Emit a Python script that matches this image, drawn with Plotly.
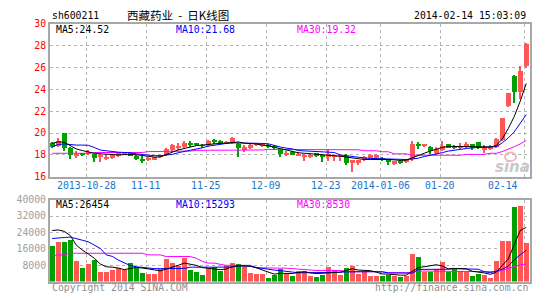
import pandas as pd
import plotly.graph_objects as go

# ---------------- data ----------------
holidays = ['2014-01-01', '2014-01-31', '2014-02-03', '2014-02-04', '2014-02-05', '2014-02-06']
dates = [d.strftime('%Y-%m-%d') for d in pd.bdate_range('2013-10-18', '2014-02-14')
         if d.strftime('%Y-%m-%d') not in holidays]

open_ = [19.15, 18.85, 20.0, 18.7, 17.95, 18.1, 18.15, 18.1, 17.9, 17.75,
         17.78, 17.95, 18.05, 18.2, 17.95, 17.7, 17.55, 17.65, 17.8, 18.0,
         18.5, 18.75, 18.75, 19.1, 19.0, 18.9, 18.95, 19.3, 19.35, 19.1,
         19.1, 19.05, 18.5, 18.7, 18.95, 18.9, 18.95, 18.85, 18.5, 18.05,
         18.3, 18.0, 17.9, 17.9, 18.2, 18.0, 17.8, 17.9, 17.8, 17.95,
         17.3, 17.3, 17.7, 17.75, 17.75, 17.75, 17.65, 17.2, 17.5, 17.4,
         17.65, 18.95, 18.9, 18.8, 18.2, 18.5, 19.0, 18.8, 18.7, 18.76,
         19.0, 19.2, 18.5, 18.6, 18.75, 19.4, 22.5, 25.25, 23.8, 26.15]
high = [19.2, 19.55, 20.0, 18.75, 18.35, 18.2, 18.45, 18.15, 18.2, 18.0,
        18.05, 18.25, 18.25, 18.25, 18.0, 17.9, 17.8, 17.85, 18.05, 18.7,
        19.05, 19.1, 19.3, 19.3, 19.1, 19.05, 19.4, 19.45, 19.4, 19.3,
        19.65, 19.1, 18.95, 19.0, 19.15, 19.1, 19.0, 18.9, 18.55, 18.35,
        18.35, 18.3, 18.15, 18.2, 18.25, 18.05, 18.55, 18.05, 18.15, 18.1,
        17.6, 17.6, 17.95, 18.1, 18.1, 17.85, 17.7, 17.5, 17.55, 17.7,
        19.27, 19.2, 19.0, 18.85, 18.76, 19.35, 19.05, 18.9, 19.1, 19.18,
        19.05, 19.25, 18.9, 18.9, 19.55, 21.45, 23.7, 25.3, 26.15, 28.25]
low = [18.7, 18.8, 18.4, 17.7, 17.75, 17.9, 18.05, 17.35, 17.4, 17.55,
       17.7, 17.85, 18.0, 17.9, 17.55, 17.3, 17.45, 17.6, 17.75, 17.95,
       18.3, 18.5, 18.7, 18.75, 18.85, 18.7, 18.75, 19.05, 19.0, 19.0,
       19.05, 17.8, 18.3, 18.6, 18.85, 18.8, 18.65, 18.6, 17.8, 17.95,
       18.0, 17.9, 17.5, 17.75, 17.85, 17.4, 17.5, 17.5, 17.5, 17.15,
       16.5, 17.1, 17.5, 17.7, 17.7, 17.45, 17.15, 17.15, 17.2, 17.3,
       17.5, 18.6, 18.8, 18.1, 18.06, 18.35, 18.65, 18.55, 18.55, 18.7,
       18.5, 18.6, 18.2, 18.5, 18.7, 19.35, 22.4, 22.75, 23.1, 26.0]
close = [18.75, 19.3, 18.7, 18.0, 18.1, 18.05, 18.3, 17.75, 18.05, 17.8,
         18.0, 18.2, 18.2, 17.95, 17.65, 17.55, 17.75, 17.8, 18.0, 18.6,
         18.9, 18.85, 19.15, 19.0, 18.95, 18.85, 19.3, 19.25, 19.05, 19.2,
         19.55, 18.68, 18.75, 18.9, 19.0, 19.0, 18.8, 18.75, 18.1, 18.25,
         18.05, 18.15, 18.0, 18.0, 17.9, 17.9, 18.1, 18.0, 18.0, 17.3,
         17.55, 17.55, 17.85, 18.0, 18.0, 17.6, 17.35, 17.45, 17.3, 17.6,
         19.0, 18.9, 18.95, 18.35, 18.55, 18.85, 18.7, 18.7, 18.85, 19.0,
         18.7, 18.7, 18.8, 18.8, 19.5, 21.45, 23.65, 23.75, 25.7, 28.2]

ma5 = [19.05, 19.2, 19.15, 18.85, 18.55, 18.4, 18.25, 18.15, 18.1, 18.05,
       18.02, 18.0, 18.03, 18.05, 18.02, 17.95, 17.85, 17.8, 17.82, 18.0,
       18.25, 18.45, 18.6, 18.72, 18.85, 18.9, 18.97, 19.02, 19.06, 19.08,
       19.15, 19.18, 19.08, 19.05, 19.0, 18.9, 18.85, 18.7, 18.58, 18.45,
       18.3, 18.2, 18.15, 18.12, 18.08, 18.05, 17.98, 17.93, 17.88, 17.8,
       17.7, 17.62, 17.58, 17.58, 17.6, 17.6, 17.58, 17.55, 17.5, 17.52,
       17.75, 17.95, 18.15, 18.35, 18.55, 18.68, 18.78, 18.78, 18.75, 18.75,
       18.73, 18.72, 18.72, 18.73, 18.85, 19.45, 20.4, 21.5, 22.9, 24.52]
ma10 = [18.75, 18.95, 19.0, 18.92, 18.9, 18.9, 18.88, 18.68, 18.45, 18.38,
        18.3, 18.25, 18.22, 18.2, 18.1, 18.05, 17.95, 17.93, 17.93, 17.98,
        18.05, 18.2, 18.3, 18.4, 18.5, 18.65, 18.8, 18.9, 18.98, 19.05,
        19.1, 19.1, 19.08, 19.06, 19.05, 19.05, 19.02, 18.85, 18.72, 18.62,
        18.55, 18.4, 18.38, 18.36, 18.3, 18.28, 18.25, 18.22, 18.0, 17.92,
        17.9, 17.8, 17.72, 17.68, 17.66, 17.65, 17.64, 17.58, 17.57, 17.58,
        17.62, 17.7, 17.85, 17.95, 18.1, 18.2, 18.35, 18.45, 18.52, 18.58,
        18.65, 18.68, 18.7, 18.72, 18.75, 19.1, 19.55, 20.1, 20.85, 21.68]
ma30 = [18.15, 18.15, 18.15, 18.15, 18.15, 18.15, 18.15, 18.22, 18.22, 18.22,
        18.22, 18.22, 18.22, 18.22, 18.22, 18.22, 18.3, 18.3, 18.3, 18.3,
        18.35, 18.35, 18.35, 18.35, 18.42, 18.42, 18.42, 18.42, 18.42, 18.42,
        18.45, 18.45, 18.45, 18.45, 18.45, 18.45, 18.5, 18.5, 18.5, 18.5,
        18.53, 18.53, 18.53, 18.53, 18.53, 18.53, 18.53, 18.53, 18.53, 18.53,
        18.47, 18.47, 18.38, 18.38, 18.38, 18.29, 18.29, 18.1, 18.1, 18.1,
        17.97, 17.97, 17.97, 17.97, 17.97, 17.97, 17.97, 17.97, 17.97, 18.05,
        18.05, 18.05, 18.05, 18.15, 18.15, 18.3, 18.5, 18.75, 19.0, 19.32]

volume = [17300, 19700, 19700, 20500, 10200, 6800, 8700, 10600, 4900, 4900,
          5900, 6800, 5600, 9200, 6800, 4400, 4000, 4000, 6300, 11100,
          9200, 7900, 11700, 5900, 4900, 3500, 6800, 7300, 5100, 7800,
          9200, 8700, 7300, 4400, 4000, 4000, 2100, 3500, 6300, 4000,
          3000, 5400, 5400, 3000, 2500, 3500, 7300, 5900, 3500, 6800,
          7800, 4000, 5400, 3000, 3000, 3000, 3500, 3000, 2500, 3000,
          13500, 12100, 4900, 4900, 6300, 9700, 4900, 6300, 5400, 4900,
          3000, 4000, 3500, 2000, 10000, 20000, 20000, 36600, 37100, 18800]
vma5 = [24900, 25200, 24500, 22500, 17800, 15400, 13500, 11400, 8600, 7200,
        7000, 6600, 5800, 6500, 6900, 6600, 6000, 5700, 5200, 6000,
        6900, 7900, 9000, 8600, 7900, 6800, 6500, 5900, 5800, 6100,
        7200, 7700, 7600, 7500, 6700, 5700, 4500, 3600, 4000, 4000,
        3900, 4400, 4800, 4200, 3900, 4000, 4300, 4400, 4600, 5400,
        6200, 5600, 5500, 5300, 4600, 3700, 3600, 3200, 3100, 3100,
        5000, 6800, 7200, 7700, 8200, 7600, 6200, 6400, 6400, 6200,
        5000, 4700, 4200, 3500, 4500, 7800, 11000, 17900, 24900, 26454]
vma10 = [21000, 21400, 21500, 21700, 20800, 20200, 19400, 18000, 16200, 13000,
         12300, 10500, 9300, 7800, 7200, 6800, 6500, 6300, 6300, 6300,
         6300, 6300, 6400, 7000, 7100, 7000, 7000, 7000, 7000, 7000,
         7100, 7600, 7500, 7500, 6900, 6400, 5900, 5600, 5300, 4900,
         4500, 4300, 4300, 4300, 4300, 4300, 4400, 4500, 4500, 4700,
         4800, 4800, 4800, 4800, 4800, 4700, 4200, 4100, 4000, 4000,
         4100, 5900, 5900, 5900, 5900, 6000, 6000, 6300, 6300, 6300,
         6300, 6000, 4800, 4300, 5100, 6000, 7500, 10600, 13000, 15293]
vma30 = [12500, 13000, 13000, 13800, 13800, 13800, 13800, 13800, 13800, 13800,
         13800, 13800, 13800, 13800, 13800, 13800, 13000, 13000, 13000, 12200,
         12200, 12200, 12200, 12200, 11400, 9800, 9000, 9000, 8400, 7900,
         7900, 7900, 7900, 7900, 6700, 6700, 6700, 6700, 6700, 6500,
         6300, 6000, 5700, 5400, 5400, 5400, 5400, 5400, 5400, 4800,
         4800, 4800, 4800, 4800, 4800, 4800, 4300, 4300, 4300, 4300,
         4300, 5100, 5100, 5100, 5100, 5100, 5100, 5100, 5100, 5100,
         5100, 5100, 4800, 4800, 4800, 5400, 6300, 7500, 8200, 8530]

tick_dates = ['2013-10-28', '2013-11-11', '2013-11-25', '2013-12-09',
              '2013-12-23', '2014-01-06', '2014-01-20', '2014-02-14']
tick_labels = ['2013-10-28', '11-11', '11-25', '12-09', '12-23', '2014-01-06', '01-20', '02-14']
price_ticks = [16, 18, 20, 22, 24, 26, 28, 30]
vol_ticks = [8000, 16000, 24000, 32000, 40000]

code = 'sh600211'
title = '西藏药业\u00a0\u00a0-\u00a0\u00a0日K线图'
stamp = '2014-02-14 15:03:09'

# ---------------- styles ----------------
W, H = 545, 300
RED, GREEN = '#ff5656', '#00a000'
MONO = 'DejaVu Sans Mono'
FS = 9.8
FRAME = '#a8a8a8'
GRID = '#b4b4b4'


def py(p):  # pixel row -> paper fraction
    return 1 - p / H


x = list(range(len(dates)))
cols = [RED if c >= o else GREEN for o, c in zip(open_, close)]
body_base = [min(o, c) for o, c in zip(open_, close)]
body_h = [max(abs(c - o), 0.09) for o, c in zip(open_, close)]
wick_h = [h - l for h, l in zip(high, low)]
vcols = cols

tickpos = [dates.index(d) - 0.35 for d in tick_dates]

fig = go.Figure()
fig.add_trace(go.Bar(x=x, y=wick_h, base=low, width=0.17, marker=dict(color=cols, line=dict(width=0)),
                     xaxis='x', yaxis='y', showlegend=False))
fig.add_trace(go.Bar(x=x, y=body_h, base=body_base, width=0.84, marker=dict(color=cols, line=dict(width=0)),
                     xaxis='x', yaxis='y', showlegend=False))
for vals, c in [(ma30, '#ff00ff'), (ma10, '#0000ff'), (ma5, '#000000')]:
    fig.add_trace(go.Scatter(x=x, y=vals, mode='lines', line=dict(color=c, width=1),
                             xaxis='x', yaxis='y', showlegend=False))

fig.add_trace(go.Bar(x=x, y=volume, width=0.84, marker=dict(color=vcols, line=dict(width=0)),
                     xaxis='x2', yaxis='y2', showlegend=False))
for vals, c in [(vma30, '#ff00ff'), (vma10, '#0000ff'), (vma5, '#000000')]:
    fig.add_trace(go.Scatter(x=x, y=vals, mode='lines', line=dict(color=c, width=1),
                             xaxis='x2', yaxis='y2', showlegend=False))

xdom = [50 / W, 529.5 / W]
xr = [-0.37, 79.55]
axis_common = dict(showline=True, mirror=True, linecolor=FRAME, linewidth=2,
                   showgrid=True, gridcolor=GRID, griddash='dot', gridwidth=1,
                   zeroline=False, ticks='', fixedrange=True)

fig.update_layout(
    width=W, height=H, margin=dict(l=0, r=0, t=0, b=0),
    paper_bgcolor='white', plot_bgcolor='white',
    barmode='overlay', bargap=0,
    font=dict(family=MONO, size=FS, color='black'),
    xaxis=dict(domain=xdom, range=xr, anchor='y', tickvals=tickpos, showticklabels=False, **axis_common),
    yaxis=dict(domain=[py(177.3), py(18.3)], range=[16, 30], anchor='x', tickvals=price_ticks,
               tickfont=dict(color='#ff0000', family=MONO, size=FS), **axis_common),
    xaxis2=dict(domain=xdom, range=xr, anchor='y2', tickvals=tickpos, showticklabels=False, **axis_common),
    yaxis2=dict(domain=[py(286), py(201)], range=[0, 40000], anchor='x2', tickvals=vol_ticks,
                ticktext=[str(v) for v in vol_ticks],
                tickfont=dict(color='#a0a0a0', family=MONO, size=FS), **axis_common),
)

ann = []
# header
ann.append(dict(text=code, x=50 / W, y=py(10), xref='paper', yref='paper', xanchor='left', yanchor='middle',
                showarrow=False, font=dict(family=MONO, size=FS, color='black')))
ann.append(dict(text=title, x=178 / W, y=py(9.5), xref='paper', yref='paper', xanchor='center', yanchor='middle',
                showarrow=False, font=dict(family='Noto Sans CJK SC', size=11.5, color='black')))
ann.append(dict(text=stamp, x=528 / W, y=py(10), xref='paper', yref='paper', xanchor='right', yanchor='middle',
                showarrow=False, font=dict(family=MONO, size=FS, color='black')))
# MA legends
for txt, xp, c in [('MA5:%.2f' % ma5[-1], 54, '#000000'), ('MA10:%.2f' % ma10[-1], 174, '#0000ff'),
                   ('MA30:%.2f' % ma30[-1], 295, '#ff00ff')]:
    ann.append(dict(text=txt, x=xp / W, y=py(24), xref='paper', yref='paper', xanchor='left', yanchor='middle',
                    showarrow=False, font=dict(family=MONO, size=FS, color=c)))
for txt, xp, c in [('MA5:%d' % vma5[-1], 54, '#000000'), ('MA10:%d' % vma10[-1], 174, '#0000ff'),
                   ('MA30:%d' % vma30[-1], 295, '#ff00ff')]:
    ann.append(dict(text=txt, x=xp / W, y=py(206), xref='paper', yref='paper', xanchor='left', yanchor='middle',
                    showarrow=False, font=dict(family=MONO, size=FS, color=c)))
# date labels
for i, (tp, lab) in enumerate(zip(tickpos, tick_labels)):
    ann.append(dict(text=lab, x=tp, y=py(186.5), xref='x', yref='paper', xanchor='center', yanchor='middle',
                    xshift=(-21 if i == len(tick_labels) - 1 else 0),
                    showarrow=False, font=dict(family=MONO, size=FS, color='#1874cd')))
# footer
ann.append(dict(text='Copyright 2014 SINA.COM', x=50 / W, y=py(292), xref='paper', yref='paper',
                xanchor='left', yanchor='middle', showarrow=False, font=dict(family=MONO, size=FS, color='#909090')))
ann.append(dict(text='http://finance.sina.com.cn', x=529.5 / W, y=py(292), xref='paper', yref='paper',
                xanchor='right', yanchor='middle', showarrow=False, font=dict(family=MONO, size=FS, color='#909090')))
# watermark
ann.append(dict(text='<b><i>sina</i></b>', x=512 / W, y=py(167), xref='paper', yref='paper',
                xanchor='center', yanchor='middle', showarrow=False,
                font=dict(family='DejaVu Sans', size=15, color='#c8c8c8')))
fig.update_layout(annotations=ann)
fig.add_shape(type='circle', xref='paper', yref='paper', x0=505 / W, x1=516 / W, y0=py(161), y1=py(152),
              line=dict(color='#f4b8b8', width=2), fillcolor='rgba(0,0,0,0)')

fig.write_html('out.html')
